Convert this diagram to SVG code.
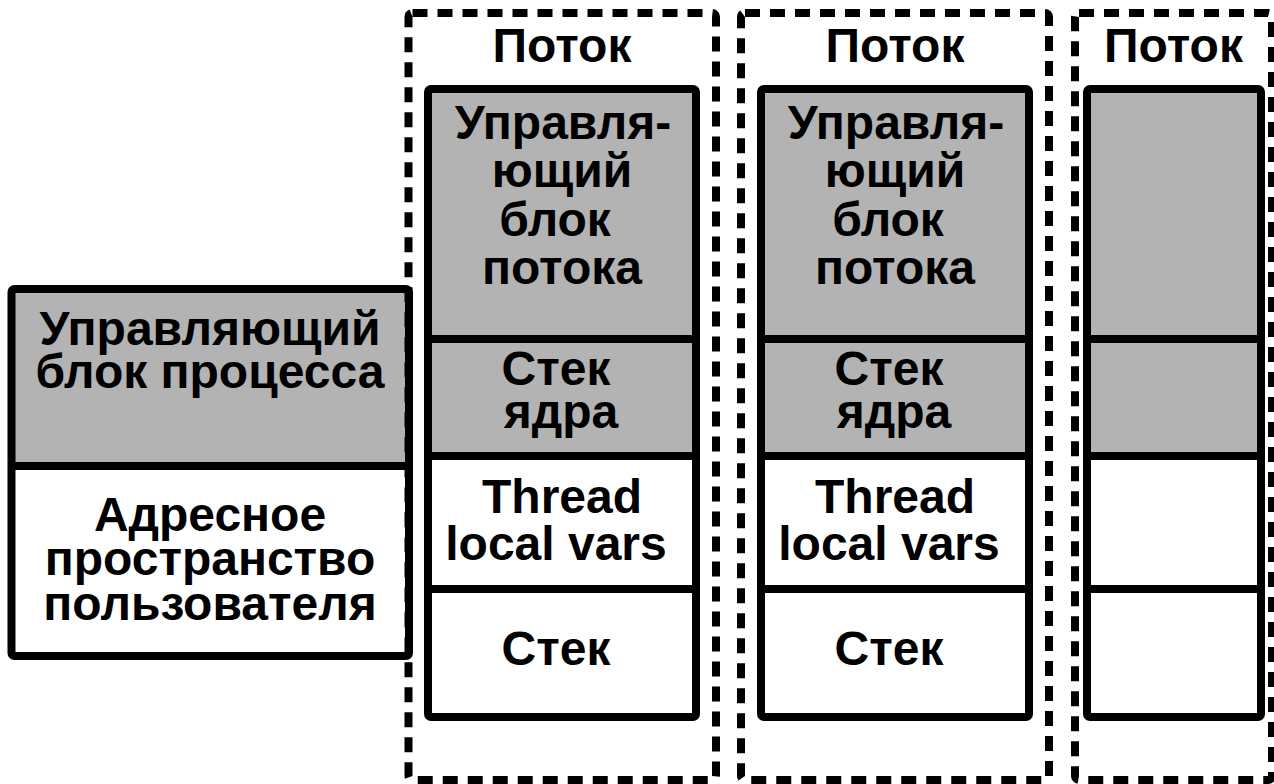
<svg xmlns="http://www.w3.org/2000/svg" width="1274" height="784" viewBox="0 0 1274 784">
<style>
.solid{fill:none;stroke:#000;stroke-width:8;stroke-linejoin:round}
.grey{fill:#b3b3b3;stroke:none}
.white{fill:#fff;stroke:none}
.div{stroke:#000;stroke-width:8}
.dash{fill:none;stroke:#000;stroke-width:8;stroke-dasharray:15 10;stroke-linejoin:round}
text{font-family:"Liberation Sans",Arial,sans-serif;font-weight:bold;font-size:48px;fill:#000;text-anchor:middle}
</style>
<rect width="1274" height="784" fill="#fff"/>
<g id="process">
<rect class="grey" x="11.5" y="289" width="397.5" height="177"/>
<rect class="white" x="11.5" y="466" width="397.5" height="190"/>
<line class="div" x1="11.5" y1="466" x2="409" y2="466"/>
<rect class="solid" x="11.5" y="289" width="397.5" height="367" rx="3"/>
<text x="210" y="345">Управляющий</text>
<text x="210" y="388">блок процесса</text>
<text x="210" y="531">Адресное</text>
<text x="210" y="575">пространство</text>
<text x="210" y="620">пользователя</text>
</g>
<g id="thread1">
<rect class="dash" x="408.5" y="13" width="307.5" height="767" rx="4"/>
<text x="562" y="62">Поток</text>
<rect class="grey" x="428" y="89" width="268" height="367"/>
<rect class="white" x="428" y="456" width="268" height="261"/>
<line class="div" x1="428" y1="339" x2="696" y2="339"/>
<line class="div" x1="428" y1="456" x2="696" y2="456"/>
<line class="div" x1="428" y1="589" x2="696" y2="589"/>
<rect class="solid" x="428" y="89" width="268" height="628" rx="3"/>
<text x="563" y="139">Управля-</text>
<text x="562" y="187">ющий</text>
<text x="555" y="236">блок</text>
<text x="562" y="284">потока</text>
<text x="556" y="385">Стек</text>
<text x="561" y="428">ядра</text>
<text x="562" y="513">Thread</text>
<text x="556" y="560">local vars</text>
<text x="556" y="665">Стек</text>
</g>
<g id="thread2">
<rect class="dash" x="741" y="13" width="308" height="767" rx="4"/>
<text x="895" y="62">Поток</text>
<rect class="grey" x="761" y="89" width="268" height="367"/>
<rect class="white" x="761" y="456" width="268" height="261"/>
<line class="div" x1="761" y1="339" x2="1029" y2="339"/>
<line class="div" x1="761" y1="456" x2="1029" y2="456"/>
<line class="div" x1="761" y1="589" x2="1029" y2="589"/>
<rect class="solid" x="761" y="89" width="268" height="628" rx="3"/>
<text x="896" y="139">Управля-</text>
<text x="895" y="187">ющий</text>
<text x="888" y="236">блок</text>
<text x="895" y="284">потока</text>
<text x="889" y="385">Стек</text>
<text x="894" y="428">ядра</text>
<text x="895" y="513">Thread</text>
<text x="889" y="560">local vars</text>
<text x="889" y="665">Стек</text>
</g>
<g id="thread3">
<rect class="dash" x="1075" y="13" width="197" height="767" rx="4"/>
<text x="1173.5" y="62">Поток</text>
<rect class="grey" x="1087" y="89" width="174" height="367"/>
<rect class="white" x="1087" y="456" width="174" height="261"/>
<line class="div" x1="1087" y1="339" x2="1261" y2="339"/>
<line class="div" x1="1087" y1="456" x2="1261" y2="456"/>
<line class="div" x1="1087" y1="589" x2="1261" y2="589"/>
<rect class="solid" x="1087" y="89" width="174" height="628" rx="3"/>
</g>
<g id="connectors"/>
</svg>
